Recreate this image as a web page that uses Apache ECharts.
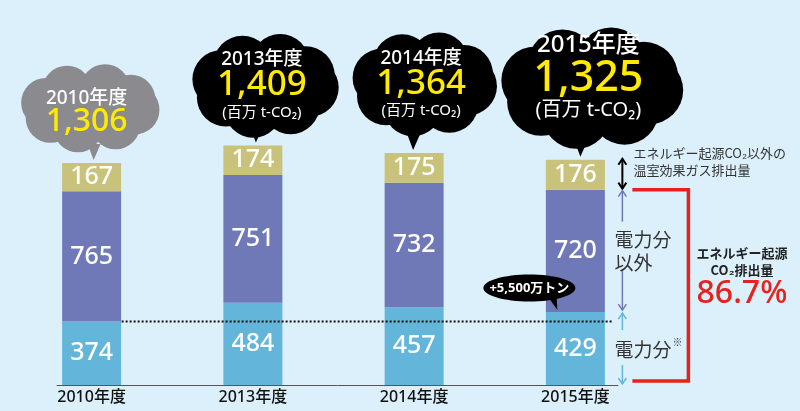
<!DOCTYPE html>
<html>
<head>
<meta charset="utf-8">
<script src="https://cdn.jsdelivr.net/npm/echarts@6/dist/echarts.min.js"></script>
<style>
html,body{margin:0;padding:0;background:#dbf0fb;}
#main{width:800px;height:411px;}
</style>
</head>
<body>
<div id="main"></div>
<script>
var years = ["2010年度", "2013年度", "2014年度", "2015年度"];
var denryoku = [374, 484, 457, 429];      // 電力分
var igai = [765, 751, 732, 720];          // 電力分以外
var sonota = [167, 174, 175, 176];        // エネルギー起源CO2以外
var totals = [1306, 1409, 1364, 1325];
var share = "86.7%";
var diffText = "+5,500万トン";

var FONT = "'Noto Sans', 'Noto Sans CJK JP', sans-serif";
var JFONT = "'Noto Sans CJK JP', sans-serif";
var cBlue = "#63b5d9", cPurple = "#6f79b7", cYellow = "#c9c27a";

var myChart = echarts.init(document.getElementById("main"));

function segLabel(){
    return {show: true, position: "inside", color: "#fff", fontSize: 25, fontWeight: 500, fontFamily: FONT};
}

var option = {
    backgroundColor: "#dbf0fb",
    animation: false,
    grid: {left: 11, width: 645, top: 11, bottom: 26},
    xAxis: {
        type: "category",
        data: years,
        axisLine: {show: false},
        axisTick: {show: false},
        axisLabel: {color: "#111", fontSize: 16, fontWeight: 500, fontFamily: FONT, margin: 4}
    },
    yAxis: {type: "value", min: 0, max: 2200, show: false, splitLine: {show: false}},
    series: [
        {name: "電力分", type: "bar", stack: "a", barWidth: 59, data: denryoku,
            itemStyle: {color: cBlue}, label: segLabel()},
        {name: "電力分以外", type: "bar", stack: "a", data: igai,
            itemStyle: {color: cPurple}, label: segLabel()},
        {name: "その他", type: "bar", stack: "a", data: sonota,
            itemStyle: {color: cYellow}, label: segLabel()}
    ]
};
myChart.setOption(option);

// 雲の形
function cloud(cx, cy, w, h, tip, color){
    var els = [];
    var a = w / 2, b = h / 2;
    var r = b * 0.55;
    els.push({type: "ellipse", shape: {cx: cx, cy: cy, rx: a * 0.8, ry: b * 0.75}, style: {fill: color}});
    [5, 55, 105, 150, 195, 240, 290, 335].forEach(function(deg){
        var t = deg * Math.PI / 180;
        els.push({type: "circle", shape: {cx: cx + (a - r) * Math.cos(t), cy: cy + (b - r) * Math.sin(t), r: r}, style: {fill: color}});
    });
    els.push({type: "polygon", shape: {points: [[tip[0] - 6, tip[1] - 16], [tip[0] + 7, tip[1] - 16], [tip[0], tip[1]]]}, style: {fill: color}});
    return els;
}

function txt(x, y, s, size, color, weight, align, fam){
    return {type: "text", x: x, y: y, style: {text: s, fill: color, font: (weight || "normal") + " " + size + "px " + (fam || FONT),
        textAlign: align || "center", textVerticalAlign: "middle"}, z: 100};
}

function arrowHead(x, y, dir, color, w){
    // dir: -1 上向き, 1 下向き
    return {type: "polyline", shape: {points: [[x - 4, y - dir * 6], [x, y], [x + 4, y - dir * 6]]},
        style: {stroke: color, lineWidth: w, fill: null}, z: 100};
}
function vline(x, y1, y2, color, w){
    return {type: "line", shape: {x1: x, y1: y1, x2: x, y2: y2}, style: {stroke: color, lineWidth: w}, z: 100};
}

// 雲の配置 (バー上端からの相対)
var cloudLayout = [
    {dx: -2, dy: -55, w: 140, h: 90, color: "#8b8a8e", tipDx: 2, sizes: [19, 32, 0], tdy: [-9, 14, 0]},
    {dx: 12, dy: -60, w: 148, h: 106, color: "#000", tipDx: 3, sizes: [19, 35, 15], tdy: [-26, 0, 27]},
    {dx: 10, dy: -69, w: 146, h: 106, color: "#000", tipDx: -1, sizes: [19, 35, 15], tdy: [-26, 0, 27]},
    {dx: 16, dy: -72, w: 184, h: 124, color: "#000", tipDx: 5, sizes: [24, 43, 20], tdy: [-43, -9, 23]}
];

var g = [];
totals.forEach(function(t, i){
    var p = myChart.convertToPixel({seriesIndex: 0}, [i, t]);
    var L = cloudLayout[i];
    var cx = p[0] + L.dx, cy = p[1] + L.dy;
    cloud(cx, cy, L.w, L.h, [p[0] + L.tipDx, p[1] - 3], L.color).forEach(function(e){ g.push(e); });
    var tx = cx - 3;
    g.push(txt(tx, cy + L.tdy[0], years[i], L.sizes[0], "#fff", 500));
    g.push(txt(tx, cy + L.tdy[1], t.toLocaleString("en-US"), L.sizes[1], "#ffea00", 500));
    if (L.sizes[2]) g.push(txt(tx, cy + L.tdy[2], "(百万 t-CO₂)", L.sizes[2], "#fff", "normal"));
});

// 軸線
var b0 = myChart.convertToPixel({seriesIndex: 0}, [0, 0]);
var b3 = myChart.convertToPixel({seriesIndex: 0}, [3, 0]);
g.push({type: "line", shape: {x1: b0[0] - 35, y1: b0[1] + 0.5, x2: b3[0] + 43, y2: b0[1] + 0.5}, style: {stroke: "#555", lineWidth: 1}, z: 90});

// 2010年度の電力分の点線
var d0 = myChart.convertToPixel({seriesIndex: 0}, [0, denryoku[0]]);
var d3 = myChart.convertToPixel({seriesIndex: 0}, [3, denryoku[0]]);
g.push({type: "line", shape: {x1: d0[0] + 30, y1: d0[1], x2: d3[0] + 38, y2: d0[1]},
    style: {stroke: "#111", lineWidth: 2, lineDash: [2, 2]}, z: 95});

// +5,500万トン 吹き出し
var e3 = myChart.convertToPixel({seriesIndex: 0}, [3, denryoku[3]]);
g.push({type: "ellipse", shape: {cx: e3[0] - 46, cy: e3[1] - 24, rx: 46, ry: 13.5}, style: {fill: "#000"}, z: 96});
g.push({type: "polygon", shape: {points: [[e3[0] - 28, e3[1] - 16], [e3[0] - 19, e3[1] - 19], [e3[0] - 18, e3[1] - 2]]}, style: {fill: "#000"}, z: 96});
g.push(txt(e3[0] - 46, e3[1] - 24, diffText, 13, "#fff", "bold"));

// 右側の注記
var top3 = myChart.convertToPixel({seriesIndex: 0}, [3, totals[3]]);
var mid3 = myChart.convertToPixel({seriesIndex: 0}, [3, denryoku[3] + igai[3]]);
var ax = b3[0] + 47;
g.push(vline(ax, top3[1] - 1, mid3[1] - 1, "#000", 2));
g.push(arrowHead(ax, top3[1] - 1, -1, "#000", 2));
g.push(arrowHead(ax, mid3[1] - 1, 1, "#000", 2));
g.push(txt(ax + 11, top3[1] - 7, "エネルギー起源CO₂以外の", 13, "#333", "normal", "left", JFONT));
g.push(txt(ax + 11, top3[1] + 10, "温室効果ガス排出量", 13, "#333", "normal", "left", JFONT));

g.push(vline(ax, mid3[1] + 1, mid3[1] + 32, cPurple, 1.5));
g.push(arrowHead(ax, mid3[1] + 1, -1, cPurple, 1.5));
g.push(vline(ax, e3[1] - 41, e3[1] - 2, cPurple, 1.5));
g.push(arrowHead(ax, e3[1] - 2, 1, cPurple, 1.5));
g.push(txt(ax - 8, mid3[1] + 50, "電力分", 19, "#333", "normal", "left", JFONT));
g.push(txt(ax - 8, mid3[1] + 73, "以外", 19, "#333", "normal", "left", JFONT));

g.push(vline(ax, e3[1] + 1, e3[1] + 18, cBlue, 1.5));
g.push(arrowHead(ax, e3[1] + 1, -1, cBlue, 1.5));
g.push(vline(ax, b3[1] - 20, b3[1] - 1, cBlue, 1.5));
g.push(arrowHead(ax, b3[1] - 1, 1, cBlue, 1.5));
g.push(txt(ax - 8, e3[1] + 38, "電力分", 19, "#333", "normal", "left", JFONT));
g.push(txt(ax + 50, e3[1] + 30, "※", 10, "#333", "normal", "left", JFONT));

// 赤い括弧
g.push({type: "polyline", shape: {points: [[ax + 10, mid3[1]], [ax + 66, mid3[1]], [ax + 66, b3[1] - 4], [ax + 10, b3[1] - 4]]},
    style: {stroke: "#e8201e", lineWidth: 3.5, fill: null}, z: 100});
g.push(txt(742, 253, "エネルギー起源", 13, "#222", "bold", "center", JFONT));
g.push(txt(742, 270, "CO₂排出量", 13, "#222", "bold", "center", JFONT));
g.push(txt(742, 294, share, 32, "#e8201e", 500));

myChart.setOption({graphic: g});
</script>
</body>
</html>
